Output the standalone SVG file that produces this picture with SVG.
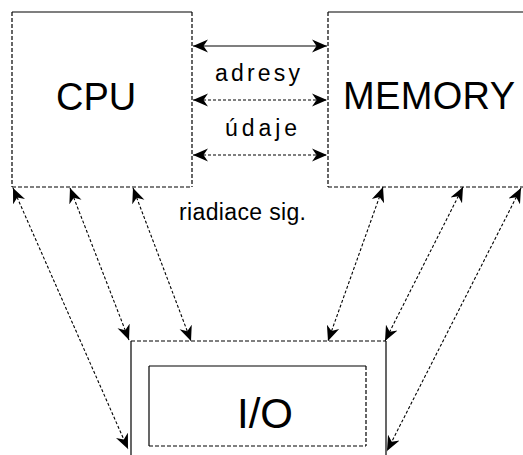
<svg xmlns="http://www.w3.org/2000/svg" width="523" height="455" viewBox="0 0 523 455">
<style>
.solid{stroke:#000;stroke-width:1.2;fill:none}
.dash{stroke:#000;stroke-width:1.2;fill:none;stroke-dasharray:4,2}
.conn{stroke:#000;stroke-width:1.1;fill:none;stroke-dasharray:3,2;marker-start:url(#ah);marker-end:url(#ah)}
.connS{stroke:#000;stroke-width:1.2;fill:none;marker-start:url(#ah);marker-end:url(#ah)}
.big{font-family:"Liberation Sans",Arial,sans-serif;font-size:38px;fill:#000}
.small{font-family:"Liberation Sans",Arial,sans-serif;font-size:23px;fill:#000}
</style>
<defs>
<marker id="ah" markerUnits="userSpaceOnUse" markerWidth="16" markerHeight="14" viewBox="0 -7 16 14" refX="15" refY="0" orient="auto-start-reverse">
<path d="M0,-6.5 L15,0 L0,6.5 L4.5,0 Z" fill="#000"/>
</marker>
</defs>
<rect width="523" height="455" fill="#fff"/>
<g id="cpu">
<line class="solid" x1="12" y1="12" x2="192" y2="12"/>
<line class="dash" x1="12" y1="12" x2="12" y2="187"/>
<line class="dash" x1="192" y1="12" x2="192" y2="187"/>
<line class="dash" x1="12" y1="187" x2="192" y2="187"/>
<text class="big" x="56" y="110">CPU</text>
</g>
<g id="memory">
<line class="solid" x1="328" y1="12" x2="523" y2="12"/>
<line class="dash" x1="328" y1="12" x2="328" y2="187"/>
<line class="dash" x1="328" y1="187" x2="523" y2="187"/>
<text class="big" x="343" y="109" textLength="172">MEMORY</text>
</g>
<g id="io">
<line class="dash" x1="131" y1="341" x2="386" y2="341"/>
<line class="solid" x1="131" y1="341" x2="131" y2="455"/>
<line class="solid" x1="386" y1="341" x2="386" y2="455"/>
<line class="solid" x1="149" y1="366" x2="366" y2="366"/>
<line class="solid" x1="149" y1="366" x2="149" y2="446"/>
<line class="dash" x1="366" y1="366" x2="366" y2="446"/>
<line class="dash" x1="149" y1="446" x2="366" y2="446"/>
<text x="237" y="428" font-family="Liberation Sans, Arial, sans-serif" font-size="42" textLength="56">I/O</text>
</g>
<g id="connectors">
<line class="connS" x1="193" y1="46" x2="327" y2="46"/>
<line class="conn" x1="193" y1="100" x2="327" y2="100"/>
<line class="conn" x1="193" y1="155" x2="327" y2="155"/>
<line class="conn" x1="13" y1="188" x2="128" y2="449"/>
<line class="conn" x1="70" y1="188" x2="129" y2="340"/>
<line class="conn" x1="133" y1="188" x2="191" y2="341"/>
<line class="conn" x1="383" y1="187" x2="328" y2="341"/>
<line class="conn" x1="463" y1="187" x2="385" y2="341"/>
<line class="conn" x1="521" y1="188" x2="387" y2="451"/>
</g>
<g id="labels">
<text class="small" x="215" y="81" textLength="85" lengthAdjust="spacing">adresy</text>
<text class="small" x="225" y="136" textLength="72" lengthAdjust="spacing">údaje</text>
<text class="small" x="179" y="220" textLength="127" lengthAdjust="spacing">riadiace sig.</text>
</g>
</svg>
